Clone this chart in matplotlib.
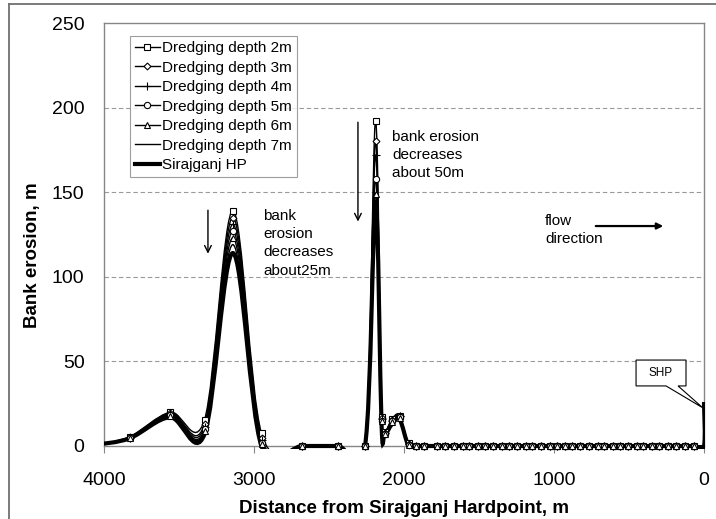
import numpy as np
import matplotlib
matplotlib.use("Agg")
from matplotlib import pyplot as plt
from matplotlib.path import Path
from matplotlib.patches import PathPatch, Polygon, Rectangle
from matplotlib.lines import Line2D

plt.rcParams['font.family'] = ['Liberation Sans', 'DejaVu Sans']

# distance from the hardpoint (m), upstream part with the two erosion peaks
distance_up = [4050, 3830, 3560, 3330, 3140, 2950, 2680, 2440, 2260, 2190, 2150, 2130, 2080, 2030, 1970]
# downstream part where erosion is zero
distance_down = [1920, 1870, 1780, 1730, 1670, 1610, 1570, 1510, 1460, 1410, 1350, 1300,
                 1250, 1190, 1150, 1090, 1030, 980, 930, 880, 830, 770, 710, 670,
                 610, 560, 510, 450, 410, 350, 300, 240, 190, 130, 70, 0]
zeros_down = [0, 0, 0, 0, 0, 0, 0, 0, 0, 0, 0, 0,
              0, 0, 0, 0, 0, 0, 0, 0, 0, 0, 0, 0,
              0, 0, 0, 0, 0, 0, 0, 0, 0, 0, 0, 0]

# bank erosion (m) upstream values per dredging depth
depth_2m = [0.8, 5.5, 20.0, 15.5, 139, 7.5, 0, 0, 0, 192, 17.0, 8.0, 16.0, 18.0, 1.5]
depth_3m = [0.8, 5.2, 19.5, 13.0, 135, 5.0, 0, 0, 0, 180, 16.5, 7.5, 15.5, 17.5, 1.0]
depth_4m = [0.8, 5.0, 19.0, 11.5, 131, 3.5, 0, 0, 0, 172, 16.0, 7.5, 15.0, 17.5, 1.0]
depth_5m = [0.8, 5.0, 18.5, 10.0, 127, 2.0, 0, 0, 0, 158, 15.0, 7.0, 14.5, 17.0, 0.5]
depth_6m = [0.8, 4.8, 18.0, 9.0, 123, 1.0, 0, 0, 0, 149, 14.5, 7.0, 14.0, 16.5, 0.5]
depth_7m = [0.8, 4.6, 17.5, 8.0, 119, 0.5, 0, 0, 0, 145, 14.0, 6.5, 13.5, 16.0, 0.0]
sirajganj_hp = [0.8, 4.5, 17.0, 7.0, 114, 0.0, 0, 0, 0, 142, 13.5, 6.5, 13.0, 16.0, 0.0]
# erosion at the hardpoint itself (x = 0)
shp_value = 26

labels = ["Dredging depth 2m", "Dredging depth 3m", "Dredging depth 4m",
          "Dredging depth 5m", "Dredging depth 6m", "Dredging depth 7m", "Sirajganj HP"]
markers = ["s", "D", "+", "o", "^", None, None]
msizes = [4.5, 3.5, 6, 4.5, 4.5, 0, 0]
widths = [1.0, 1.0, 1.0, 1.0, 1.0, 1.0, 3.0]


def smooth_path(xs, ys):
    # excel style smoothed line (catmull-rom as cubic bezier segments)
    pts = np.column_stack([xs, ys]).astype(float)
    n = len(pts)
    verts = [pts[0]]
    codes = [Path.MOVETO]
    for i in range(n - 1):
        p0 = pts[max(i - 1, 0)]
        p1 = pts[i]
        p2 = pts[i + 1]
        p3 = pts[min(i + 2, n - 1)]
        verts += [p1 + (p2 - p0) / 6, p2 - (p3 - p1) / 6, p2]
        codes += [Path.CURVE4] * 3
    return Path(verts, codes)


fig = plt.figure(figsize=(7.16, 5.19), dpi=100)
ax = fig.add_axes([104 / 716, 1 - 446 / 519, 600 / 716, 423 / 519])

clip = Rectangle((-8, -1.5), 4008, 252, transform=ax.transData)

series = [depth_2m, depth_3m, depth_4m, depth_5m, depth_6m, depth_7m, sirajganj_hp]
x_all = np.array(distance_up + distance_down)
handles = []
for i, vals in enumerate(series):
    xs = list(x_all)
    ys = vals + zeros_down
    if i == 6:
        xs = xs + [0]
        ys = ys + [shp_value]
    patch = PathPatch(smooth_path(xs, ys), fill=False, ec="black", lw=widths[i], zorder=3 + i * 0.1)
    ax.add_patch(patch)
    patch.set_clip_path(clip)
    if markers[i] is not None:
        xm = np.array(xs)
        ym = np.array(ys)
        keep = (xm <= 4000) & (xm > 0)
        ax.plot(xm[keep], ym[keep], linestyle="none", marker=markers[i], ms=msizes[i],
                mfc="white", mec="black", mew=0.8, clip_on=False, zorder=5)
    handles.append(Line2D([], [], color="black", lw=widths[i],
                          marker=markers[i], ms=msizes[i], mfc="white", mec="black", mew=0.8))

ax.set_xlim(4000, 0)
ax.set_ylim(0, 250)
ax.set_xticks([4000, 3000, 2000, 1000, 0])
ax.set_yticks([0, 50, 100, 150, 200, 250])
ax.tick_params(axis="x", labelsize=14, length=5, color="#868686", pad=14)
ax.tick_params(axis="y", labelsize=14, length=0, pad=14)
for y in [50, 100, 150, 200]:
    ax.axhline(y, color="#9a9a9a", lw=0.8, ls=(0, (4, 2.5)), zorder=1)
for s in ax.spines.values():
    s.set_color("#868686")
    s.set_linewidth(1.0)

ax.set_xlabel("Distance from Sirajganj Hardpoint, m", fontsize=13.5, fontweight="bold")
ax.set_ylabel("Bank erosion, m", fontsize=13.5, fontweight="bold")
ax.xaxis.set_label_coords(0.5, -0.128)
ax.yaxis.set_label_coords(-0.105, 0.45)

leg = ax.legend(handles, labels, loc="upper left", bbox_to_anchor=(0.043, 0.97), borderaxespad=0,
                fontsize=11, frameon=True, fancybox=False, edgecolor="#868686", handlelength=1.6,
                handletextpad=0.15, labelspacing=0.36, borderpad=0.35)
leg.get_frame().set_linewidth(0.8)
leg.set_zorder(10)

# annotations
ax.annotate("", xy=(3307, 112), xytext=(3307, 141),
            arrowprops=dict(arrowstyle="->", color="black", lw=1, mutation_scale=12))
ax.annotate("", xy=(2307, 131), xytext=(2307, 193),
            arrowprops=dict(arrowstyle="->", color="black", lw=1, mutation_scale=12))
ax.annotate("", xy=(253, 130), xytext=(740, 130),
            arrowprops=dict(arrowstyle="-|>", color="black", lw=1.6, mutation_scale=9))
ax.text(2940, 140, "bank\nerosion\ndecreases\nabout25m", fontsize=11, va="top", ha="left", linespacing=1.38)
ax.text(2080, 187, "bank erosion\ndecreases\nabout 50m", fontsize=11, va="top", ha="left", linespacing=1.38)
ax.text(1060, 137, "flow\ndirection", fontsize=11, va="top", ha="left", linespacing=1.38)

callout = Polygon([(453, 50.8), (120, 50.8), (120, 35.5), (173, 35.5), (7, 22.5), (253, 35.5), (453, 35.5)],
                  closed=True, fc="white", ec="black", lw=0.8, zorder=8, clip_on=False)
ax.add_patch(callout)
ax.text(287, 43.2, "SHP", fontsize=8.5, ha="center", va="center", zorder=9)

# chart border
fig.add_artist(Line2D([9 / 716, 9 / 716], [0, 1 - 4 / 519], color="#707070", lw=1.3))
fig.add_artist(Line2D([9 / 716, 1], [1 - 4 / 519, 1 - 4 / 519], color="#707070", lw=1.3))

fig.savefig("out.png", dpi=100)
plt.close()
